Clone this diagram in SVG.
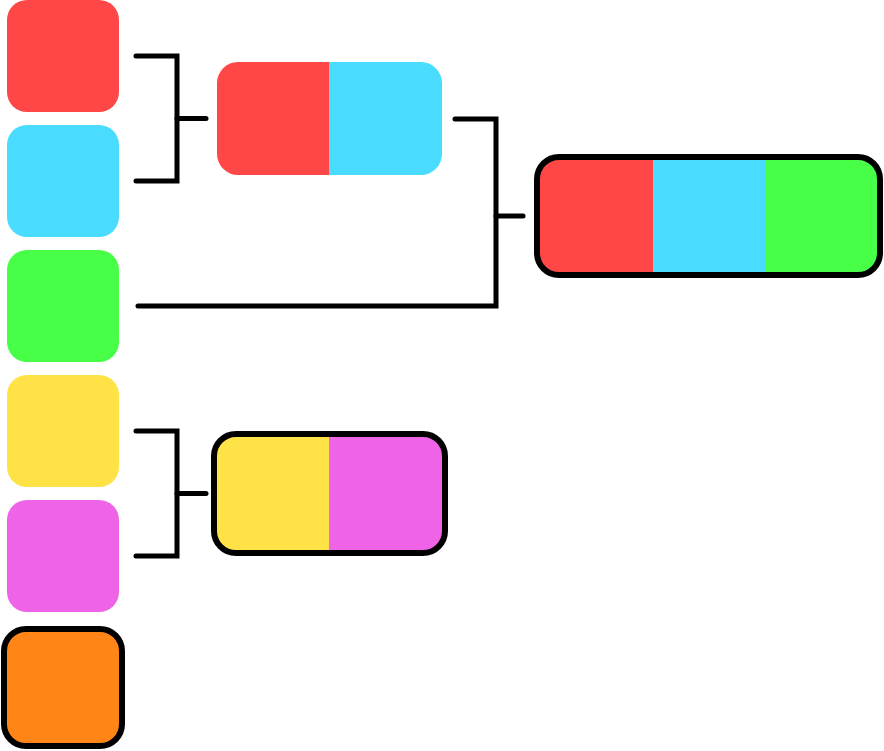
<svg xmlns="http://www.w3.org/2000/svg" width="884" height="751" viewBox="0 0 884 751">
<style>
.r{fill:#ff4747}.c{fill:#4adcff}.g{fill:#48ff48}.y{fill:#ffe246}.p{fill:#ef63e6}.o{fill:#ff8616}
.ol{fill:none;stroke:#000;stroke-width:6}
.ln{fill:none;stroke:#000;stroke-width:5;stroke-linecap:round;stroke-linejoin:miter}
</style>
<defs>
<clipPath id="c1"><rect x="217" y="62" width="225" height="113" rx="21"/></clipPath>
<clipPath id="c2"><rect x="537" y="157" width="343" height="118" rx="22"/></clipPath>
<clipPath id="c3"><rect x="214" y="434" width="231" height="119" rx="22"/></clipPath>
</defs>
<rect width="884" height="751" fill="#fff"/>
<g id="connectors">
<polyline class="ln" points="136,56 177,56 177,181 136,181"/>
<line class="ln" x1="177" y1="118.5" x2="206" y2="118.5"/>
<polyline class="ln" points="455,119 496,119 496,306 138,306"/>
<line class="ln" x1="496" y1="216" x2="523" y2="216"/>
<polyline class="ln" points="136,431 177,431 177,556 136,556"/>
<line class="ln" x1="177" y1="493.5" x2="206" y2="493.5"/>
</g>
<g id="n-red"><rect class="r" x="7" y="0" width="112" height="112" rx="20"/></g>
<g id="n-cyan"><rect class="c" x="7" y="125" width="112" height="112" rx="20"/></g>
<g id="n-green"><rect class="g" x="7" y="250" width="112" height="112" rx="20"/></g>
<g id="n-yellow"><rect class="y" x="7" y="375" width="112" height="112" rx="20"/></g>
<g id="n-pink"><rect class="p" x="7" y="500" width="112" height="112" rx="20"/></g>
<g id="n-orange"><rect class="o ol" x="4" y="629" width="118" height="117" rx="22" style="fill:#ff8616"/></g>
<g id="n-red-cyan" clip-path="url(#c1)">
<rect class="r" x="217" y="62" width="112" height="113"/>
<rect class="c" x="329" y="62" width="113" height="113"/>
</g>
<g id="n-red-cyan-green">
<g clip-path="url(#c2)">
<rect class="r" x="537" y="157" width="116" height="118"/>
<rect class="c" x="653" y="157" width="112" height="118"/>
<rect class="g" x="765" y="157" width="115" height="118"/>
</g>
<rect class="ol" x="537" y="157" width="343" height="118" rx="22"/>
</g>
<g id="n-yellow-pink">
<g clip-path="url(#c3)">
<rect class="y" x="214" y="434" width="115" height="119"/>
<rect class="p" x="329" y="434" width="116" height="119"/>
</g>
<rect class="ol" x="214" y="434" width="231" height="119" rx="22"/>
</g>
</svg>
